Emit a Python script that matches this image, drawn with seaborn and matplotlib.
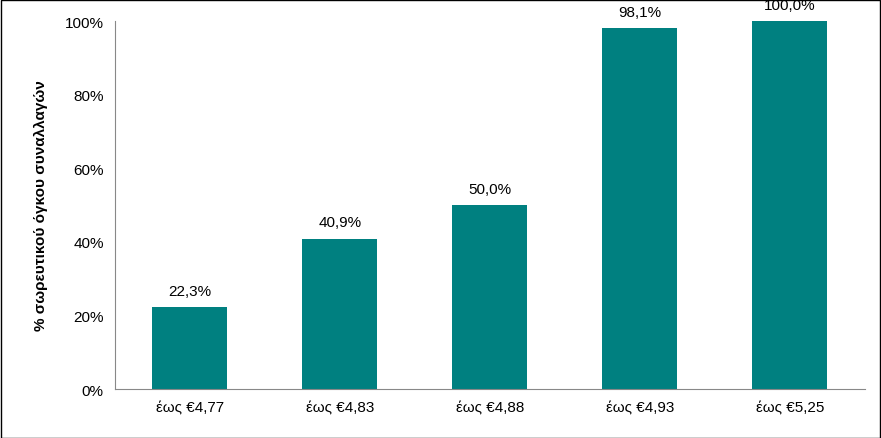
import matplotlib
matplotlib.use("Agg")
import matplotlib.pyplot as plt
import seaborn as sns
import pandas as pd

categories = ["έως €4,77", "έως €4,83", "έως €4,88", "έως €4,93", "έως €5,25"]
values = [22.3, 40.9, 50.0, 98.1, 100.0]
labels = ["22,3%", "40,9%", "50,0%", "98,1%", "100,0%"]
yticks = [0, 20, 40, 60, 80, 100]

plt.rcParams["font.family"] = "Liberation Sans"
fig = plt.figure(figsize=(8.81, 4.39), dpi=100)
ax = fig.add_axes([0.1305, 0.1116, 0.851, 0.838])
df = pd.DataFrame({"cat": categories, "val": values})
sns.barplot(data=df, x="cat", y="val", color="#008080", width=0.5, saturation=1, ax=ax)
for i, (v, l) in enumerate(zip(values, labels)):
    ax.text(i, v + 2.5, l, ha="center", va="bottom", fontsize=11)
ax.set_ylim(0, 100)
ax.set_xlim(-0.5, 4.5)
ax.set_yticks(yticks)
ax.set_yticklabels([f"{t}%" for t in yticks], fontsize=11)
ax.tick_params(axis="x", labelsize=11, length=0, pad=8)
ax.tick_params(axis="y", length=0, pad=8)
ax.set_xlabel("")
ax.set_ylabel("% σωρευτικού όγκου συναλλαγών", fontsize=11, fontweight="bold", labelpad=12)
for s in ["top", "right"]:
    ax.spines[s].set_visible(False)
ax.spines["left"].set_color("#888888")
ax.spines["bottom"].set_color("#888888")
fig.patches.append(plt.Rectangle((0.001, 0.001), 0.998, 0.997, transform=fig.transFigure,
                                 fill=False, edgecolor="black", linewidth=1))
fig.savefig("out.png", dpi=100)
